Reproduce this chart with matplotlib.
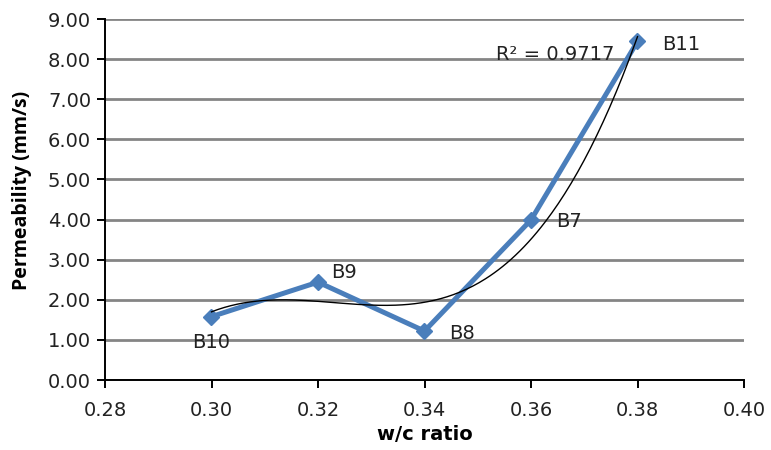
import numpy as np
import matplotlib.pyplot as plt

# data
wc_ratio = [0.30, 0.32, 0.34, 0.36, 0.38]
permeability = [1.58, 2.44, 1.22, 3.99, 8.44]
mix_names = ["B10", "B9", "B8", "B7", "B11"]
r2_label = "R² = 0.9717"

# label offsets (pixels) relative to each point
label_offsets = {"B10": (0, -26, "center"), "B9": (13, 10, "left"),
                 "B8": (25, -2, "left"), "B7": (25, -2, "left"),
                 "B11": (25, -3, "left")}

plt.rcParams['font.family'] = ['DejaVu Sans']

fig = plt.figure(figsize=(7.71, 4.5), dpi=100)
ax = fig.add_axes([105 / 771, 70 / 450, 639 / 771, 361 / 450])

# polynomial (order 3) trendline, like Excel
coef = np.polyfit(wc_ratio, permeability, 3)
xs = np.linspace(wc_ratio[0], wc_ratio[-1], 200)
ax.plot(xs, np.polyval(coef, xs), color='black', linewidth=1.0, zorder=4)

ax.plot(wc_ratio, permeability, color='#4A7EBB', linewidth=3.6, marker='D',
        markersize=8, zorder=3)

for x, y, name in zip(wc_ratio, permeability, mix_names):
    dx, dy, ha = label_offsets[name]
    ax.annotate(name, (x, y), xytext=(dx, dy), textcoords='offset pixels',
                ha=ha, va='center', fontsize=14, color='#222222', zorder=5)

ax.annotate(r2_label, (wc_ratio[-1], permeability[-1]), xytext=(-23, -13),
            textcoords='offset pixels', ha='right', va='center',
            fontsize=14, color='#222222', zorder=5)

ax.set_xlim(0.28, 0.40)
ax.set_ylim(0, 9)
ax.set_xticks(np.arange(0.28, 0.4001, 0.02))
ax.set_yticks(np.arange(0, 9.01, 1))
ax.xaxis.set_major_formatter(plt.FormatStrFormatter('%.2f'))
ax.yaxis.set_major_formatter(plt.FormatStrFormatter('%.2f'))
ax.grid(axis='y', color='#858585', linewidth=2.0, zorder=0)
ax.set_axisbelow(True)

for side in ['top', 'right']:
    ax.spines[side].set_visible(False)
for side in ['left', 'bottom']:
    ax.spines[side].set_linewidth(1.4)
ax.tick_params(axis='both', direction='out', length=6, width=1.4,
               labelsize=14, colors='black', labelcolor='#222222')
ax.tick_params(axis='x', pad=9)
ax.tick_params(axis='y', pad=4)

ax.set_xlabel("w/c ratio", fontsize=14, fontweight='bold', va='center')
ax.xaxis.set_label_coords(0.5, -0.150)
ax.set_ylabel("Permeability (mm/s)", fontsize=14, fontweight='bold',
              family='Open Sans', va='center')
ax.yaxis.set_label_coords(-0.130, 0.524)

fig.savefig("out.png", dpi=100)
